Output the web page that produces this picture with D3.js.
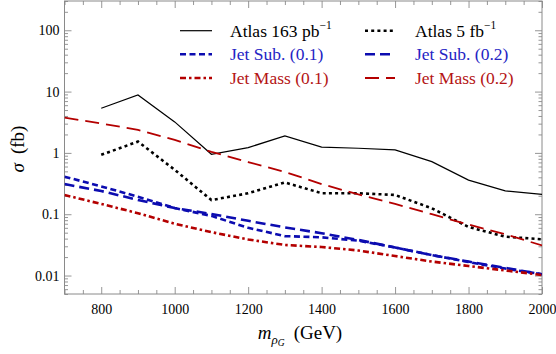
<!DOCTYPE html>
<html><head><meta charset="utf-8">
<script src="https://cdn.jsdelivr.net/npm/d3@7"></script>
<style>
html,body{margin:0;padding:0;background:#fff;}
svg{display:block;font-family:"Liberation Serif","DejaVu Serif",serif;}
</style></head>
<body><svg id="c" width="556" height="354"></svg>
<script>
// ---- data ----
const xTickLabels = [800, 1000, 1200, 1400, 1600, 1800, 2000];
const yTickLabels = [0.01, 0.1, 1, 10, 100];
const atlasMass = [800, 900, 1000, 1100, 1200, 1300, 1400, 1500, 1600, 1700, 1800, 1900, 2000];
const atlas163 = [5.35, 8.8, 3.2, 0.95, 1.22, 1.89, 1.24, 1.19, 1.12, 0.72, 0.36, 0.24, 0.21];
const atlas5 = [0.93, 1.53, 0.53, 0.17, 0.22, 0.33, 0.22, 0.22, 0.206, 0.125, 0.062, 0.043, 0.039];
const theoryMass = [700, 800, 900, 1000, 1100, 1200, 1300, 1400, 1500, 1600, 1700, 1800, 1900, 2000];
const jetSub01 = [0.41, 0.284, 0.193, 0.126, 0.094, 0.060, 0.044, 0.042, 0.037, 0.0287, 0.0216, 0.0166, 0.0130, 0.0105];
const jetSub02 = [0.31, 0.239, 0.171, 0.126, 0.101, 0.078, 0.061, 0.049, 0.038, 0.0287, 0.0216, 0.0169, 0.0133, 0.0105];
const jetMass01 = [0.206, 0.147, 0.104, 0.070, 0.051, 0.0387, 0.0315, 0.0292, 0.0256, 0.0208, 0.0169, 0.0143, 0.0121, 0.0102];
const jetMass02 = [3.76, 3.02, 2.37, 1.63, 1.04, 0.71, 0.49, 0.31, 0.21, 0.147, 0.10, 0.068, 0.047, 0.031];

const BLUE = "#0c0cb0", RED = "#b40000", BLUE_T = "#2424c4", RED_T = "#b41414", FRAME = "#8a8a8a";

const svg = d3.select("#c");
const L = 64.5, R = 542, T = 1, B = 294;
const x = d3.scaleLinear().domain([700, 2000]).range([L, R]);
const y = d3.scaleLog().domain([0.005, 300]).range([B, T]);

// minor ticks
const xMinor = d3.range(700, 2001, 50).filter(v => xTickLabels.indexOf(v) < 0);
const yMinor = [];
[0.001, 0.01, 0.1, 1, 10, 100].forEach(d => { for (let k = 2; k <= 9; k++) { const v = d * k; if (v >= 0.005 && v <= 300) yMinor.push(v); } });

const fmtY = d => String(d);

function styleAxis(g) {
  g.selectAll("path.domain").attr("stroke", FRAME).attr("stroke-width", 1);
  g.selectAll(".tick line").attr("stroke", FRAME).attr("stroke-width", 0.9);
  g.selectAll(".tick text").attr("fill", "#000").attr("font-size", 14).attr("font-family", "'Liberation Serif', serif");
}

// bottom
svg.append("g").attr("transform", `translate(0,${B})`)
  .call(d3.axisBottom(x).tickValues(xTickLabels).tickSize(-7).tickPadding(10).tickFormat(d3.format("d")))
  .call(styleAxis);
svg.append("g").attr("transform", `translate(0,${B})`)
  .call(d3.axisBottom(x).tickValues(xMinor).tickSize(-4).tickFormat(""))
  .call(styleAxis);
// top
svg.append("g").attr("transform", `translate(0,${T})`)
  .call(d3.axisTop(x).tickValues(xTickLabels).tickSize(-7).tickFormat(""))
  .call(styleAxis);
svg.append("g").attr("transform", `translate(0,${T})`)
  .call(d3.axisTop(x).tickValues(xMinor).tickSize(-4).tickFormat(""))
  .call(styleAxis);
// left
svg.append("g").attr("transform", `translate(${L},0)`)
  .call(d3.axisLeft(y).tickValues(yTickLabels).tickSize(-7).tickPadding(5).tickFormat(fmtY))
  .call(styleAxis);
svg.append("g").attr("transform", `translate(${L},0)`)
  .call(d3.axisLeft(y).tickValues(yMinor).tickSize(-3.5).tickFormat(""))
  .call(styleAxis);
// right
svg.append("g").attr("transform", `translate(${R},0)`)
  .call(d3.axisRight(y).tickValues(yTickLabels).tickSize(-7).tickFormat(""))
  .call(styleAxis);
svg.append("g").attr("transform", `translate(${R},0)`)
  .call(d3.axisRight(y).tickValues(yMinor).tickSize(-3.5).tickFormat(""))
  .call(styleAxis);

svg.selectAll("path.domain").attr("d", null);
svg.append("rect").attr("x", L).attr("y", T).attr("width", R - L).attr("height", B - T)
  .attr("fill", "none").attr("stroke", FRAME).attr("stroke-width", 1);

// series
const series = [
  { name: "atlas163", xs: atlasMass, ys: atlas163, color: "#000", w: 1.2, dash: null },
  { name: "atlas5", xs: atlasMass, ys: atlas5, color: "#000", w: 2.6, dash: "3,3.2" },
  { name: "jetMass02", xs: theoryMass, ys: jetMass02, color: RED, w: 1.8, dash: "14,7" },
  { name: "jetSub02", xs: theoryMass, ys: jetSub02, color: BLUE, w: 2.6, dash: "10,5" },
  { name: "jetSub01", xs: theoryMass, ys: jetSub01, color: BLUE, w: 2.6, dash: "6,3.5" },
  { name: "jetMass01", xs: theoryMass, ys: jetMass01, color: RED, w: 2.6, dash: "6,3,2.5,3" }
];
svg.append("clipPath").attr("id", "pc").append("rect")
  .attr("x", L).attr("y", T).attr("width", R - L).attr("height", B - T);
const line = d3.line().x(d => x(d[0])).y(d => y(d[1])).curve(d3.curveLinear);
series.forEach(s => {
  const pts = s.xs.map((v, i) => [v, s.ys[i]]);
  svg.append("path").datum(pts).attr("d", line).attr("fill", "none")
    .attr("stroke", s.color).attr("stroke-width", s.w)
    .attr("stroke-dasharray", s.dash).attr("clip-path", "url(#pc)");
});

// legend
const legend = [
  { col: 0, row: 0, color: "#000", text: "Atlas 163 pb", sup: "\u22121", tcolor: "#000", w: 1.2, dash: null },
  { col: 1, row: 0, color: "#000", text: "Atlas 5 fb", sup: "\u22121", tcolor: "#000", w: 2.6, dash: "3,3.2" },
  { col: 0, row: 1, color: BLUE, text: "Jet Sub. (0.1)", tcolor: BLUE_T, w: 2.6, dash: "6,3.5" },
  { col: 1, row: 1, color: BLUE, text: "Jet Sub. (0.2)", tcolor: BLUE_T, w: 2.6, dash: "10,5" },
  { col: 0, row: 2, color: RED, text: "Jet Mass (0.1)", tcolor: RED_T, w: 2.6, dash: "6,3,2.5,3" },
  { col: 1, row: 2, color: RED, text: "Jet Mass (0.2)", tcolor: RED_T, w: 1.8, dash: "14,7" }
];
const colLine = [180, 365], colText = [230, 415], rowY = [30.7, 54.3, 78];
legend.forEach(e => {
  const ly = rowY[e.row];
  svg.append("line").attr("x1", colLine[e.col]).attr("x2", colLine[e.col] + (e.col ? 30 : 32))
    .attr("y1", ly).attr("y2", ly).attr("stroke", e.color).attr("stroke-width", e.w)
    .attr("stroke-dasharray", e.dash);
  const t = svg.append("text").attr("x", colText[e.col]).attr("y", ly + 6)
    .attr("font-size", 17.5).attr("fill", e.tcolor).text(e.text);
  if (e.sup) t.append("tspan").attr("font-size", 11.5).attr("dy", -8).text(e.sup);
});

// axis titles
const xt = svg.append("text").attr("x", 300).attr("y", 339).attr("text-anchor", "middle").attr("font-size", 19);
xt.append("tspan").attr("font-style", "italic").text("m");
xt.append("tspan").attr("font-size", 13).attr("font-style", "italic").attr("dy", 5).text("\u03C1");
xt.append("tspan").attr("font-size", 9.5).attr("font-style", "italic").attr("dy", 2).text("G");
xt.append("tspan").attr("dy", -7).attr("dx", 9).text("(GeV)");

const yt = svg.append("text").attr("transform", "translate(24,149) rotate(-90)").attr("text-anchor", "middle").attr("font-size", 19);
yt.append("tspan").attr("font-style", "italic").text("\u03C3");
yt.append("tspan").attr("dx", 9).text("(fb)");
</script></body></html>
